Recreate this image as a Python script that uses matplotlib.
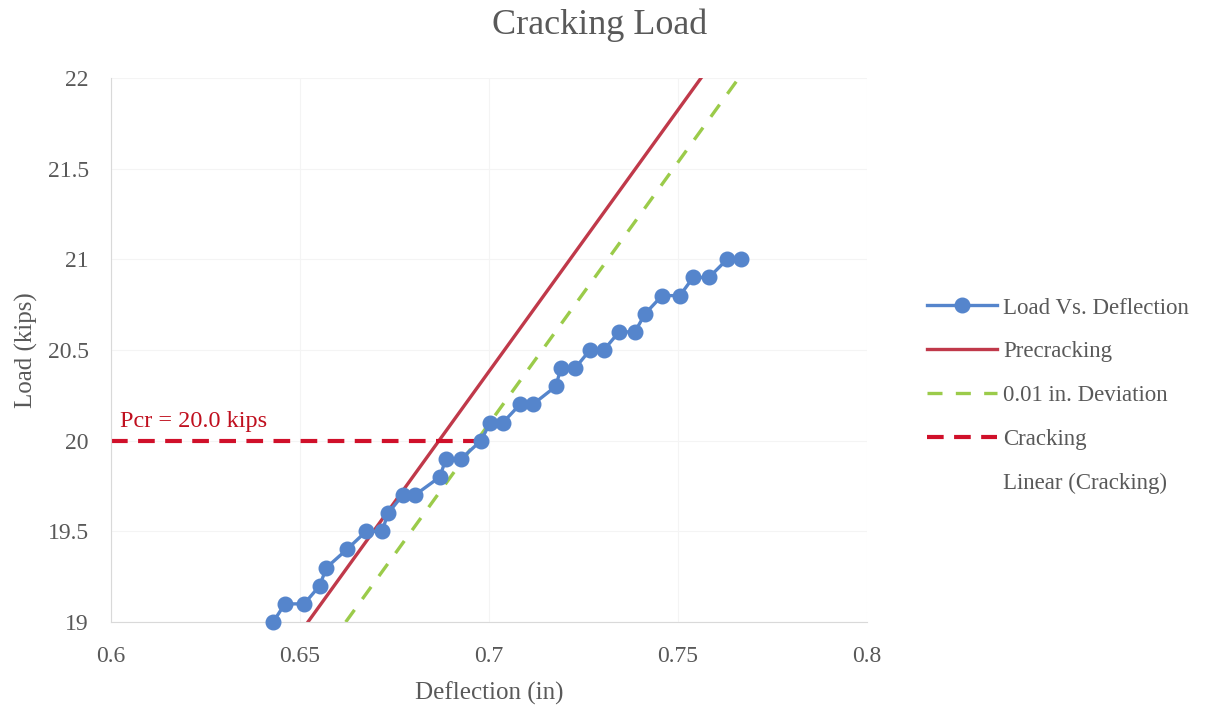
import matplotlib.pyplot as plt

# load-deflection readings
deflection = [0.6429, 0.6460, 0.6511, 0.6552, 0.6570, 0.6624, 0.6675, 0.6717,
              0.6733, 0.6772, 0.6804, 0.6870, 0.6886, 0.6926, 0.6979, 0.7003,
              0.7037, 0.7082, 0.7116, 0.7177, 0.7190, 0.7228, 0.7267, 0.7304,
              0.7344, 0.7386, 0.7413, 0.7458, 0.7505, 0.7540, 0.7582, 0.7630,
              0.7667]
load = [19.0, 19.1, 19.1, 19.2, 19.3, 19.4, 19.5, 19.5, 19.6, 19.7, 19.7,
        19.8, 19.9, 19.9, 20.0, 20.1, 20.1, 20.2, 20.2, 20.3, 20.4, 20.4,
        20.5, 20.5, 20.6, 20.6, 20.7, 20.8, 20.8, 20.9, 20.9, 21.0, 21.0]

# precracking line and its 0.01 in. offset
precrack_x = [0.6521, 0.7561]
precrack_y = [19.0, 22.0]
deviation_x = [0.6621, 0.7661]
deviation_y = [19.0, 22.0]

# cracking load
crack_x = [0.6, 0.698]
crack_y = [20.0, 20.0]
pcr_label = 'Pcr = 20.0 kips'

txt = '#595959'
plt.rcParams['font.family'] = ['Liberation Serif', 'DejaVu Serif']

fig = plt.figure(figsize=(12.05, 7.07), dpi=100)
ax = fig.add_axes([0.0921, 0.1202, 0.6274, 0.7695])

ax.plot(deflection, load, color='#5585CC', lw=2.4, marker='o', ms=10.5,
        label='Load Vs. Deflection', zorder=3, clip_on=False)
ax.plot(precrack_x, precrack_y, color='#C0394A', lw=2.4, label='Precracking', zorder=2)
ax.plot(deviation_x, deviation_y, color='#9BCB4A', lw=2.4, ls=(0, (4.5, 4)),
        label='0.01 in. Deviation', zorder=2)
ax.plot(crack_x, crack_y, color='#D0102A', lw=3, ls=(0, (4, 2.5)),
        label='Cracking', zorder=2)
ax.plot([], [], color='none', label='Linear (Cracking)')

ax.text(0.6024, 20.05, pcr_label, color='#C0101F', fontsize=17.5,
        ha='left', va='bottom')

ax.set_xlim(0.6, 0.8)
ax.set_ylim(19, 22)
ax.set_xticks([0.6, 0.65, 0.7, 0.75, 0.8])
ax.set_xticklabels(['0.6', '0.65', '0.7', '0.75', '0.8'])
ax.set_yticks([19, 19.5, 20, 20.5, 21, 21.5, 22])
ax.set_yticklabels(['19', '19.5', '20', '20.5', '21', '21.5', '22'])
ax.tick_params(length=0, labelsize=17, labelcolor=txt)
ax.tick_params(axis='y', pad=16)
ax.tick_params(axis='x', pad=17)
ax.grid(color='#F4F4F4', lw=0.8)
for s in ['top', 'right']:
    ax.spines[s].set_visible(False)
for s in ['left', 'bottom']:
    ax.spines[s].set_color('#D9D9D9')

fig.text(0.498, 0.964, 'Cracking Load', fontsize=26, color=txt,
         ha='center', va='center')
ax.set_xlabel('Deflection (in)', fontsize=18, color=txt, labelpad=11)
ax.set_ylabel('Load (kips)', fontsize=18, color=txt, labelpad=7)

leg = ax.legend(loc='center left', bbox_to_anchor=(1.079, 0.4155), frameon=False,
                fontsize=16.5, labelcolor=txt, handlelength=3.05, labelspacing=1.0,
                handletextpad=0.3, borderpad=0, borderaxespad=0)

fig.savefig('out.png', dpi=100)
